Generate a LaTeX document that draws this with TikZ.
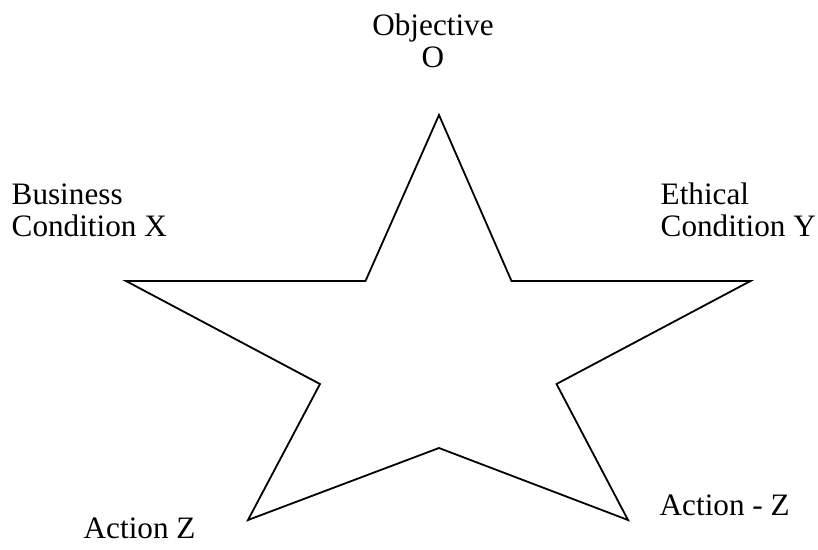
\documentclass[tikz,border=0pt]{standalone}
\usepackage{fontspec}
\setmainfont{Liberation Serif}
\begin{document}
\begin{tikzpicture}[x=1pt,y=-1pt,
  lbl/.style={inner sep=0pt, anchor=base west, font=\fontsize{31.2}{32.4}\selectfont},
  starline/.style={draw=black, line width=1.8pt, line join=miter}]
\useasboundingbox (0,0) rectangle (818,549);
\coordinate (t) at (439,115);
\coordinate (itl) at (365.5,281);
\coordinate (l) at (126,281);
\coordinate (il) at (320,384);
\coordinate (bl) at (248,520);
\coordinate (ib) at (439,448);
\coordinate (br) at (628,520);
\coordinate (ir) at (556.5,384);
\coordinate (r) at (750.5,281);
\coordinate (itr) at (511.5,281);
\draw[starline] (t) -- (itl) -- (l) -- (il) -- (bl) -- (ib) -- (br) -- (ir) -- (r) -- (itr) -- cycle;
\node[lbl, anchor=base] (obj) at (433,35) {Objective};
\node[lbl, anchor=base] (o) at (433,67.4) {O};
\node[lbl] (bus1) at (11.5,204.3) {Business};
\node[lbl] (bus2) at (11.5,236.7) {Condition X};
\node[lbl] (eth1) at (660.5,204.3) {Ethical};
\node[lbl] (eth2) at (660.5,236.7) {Condition Y};
\node[lbl] (az) at (83.5,538.3) {Action Z};
\node[lbl] (amz) at (659.5,515) {Action - Z};
\end{tikzpicture}
\end{document}
